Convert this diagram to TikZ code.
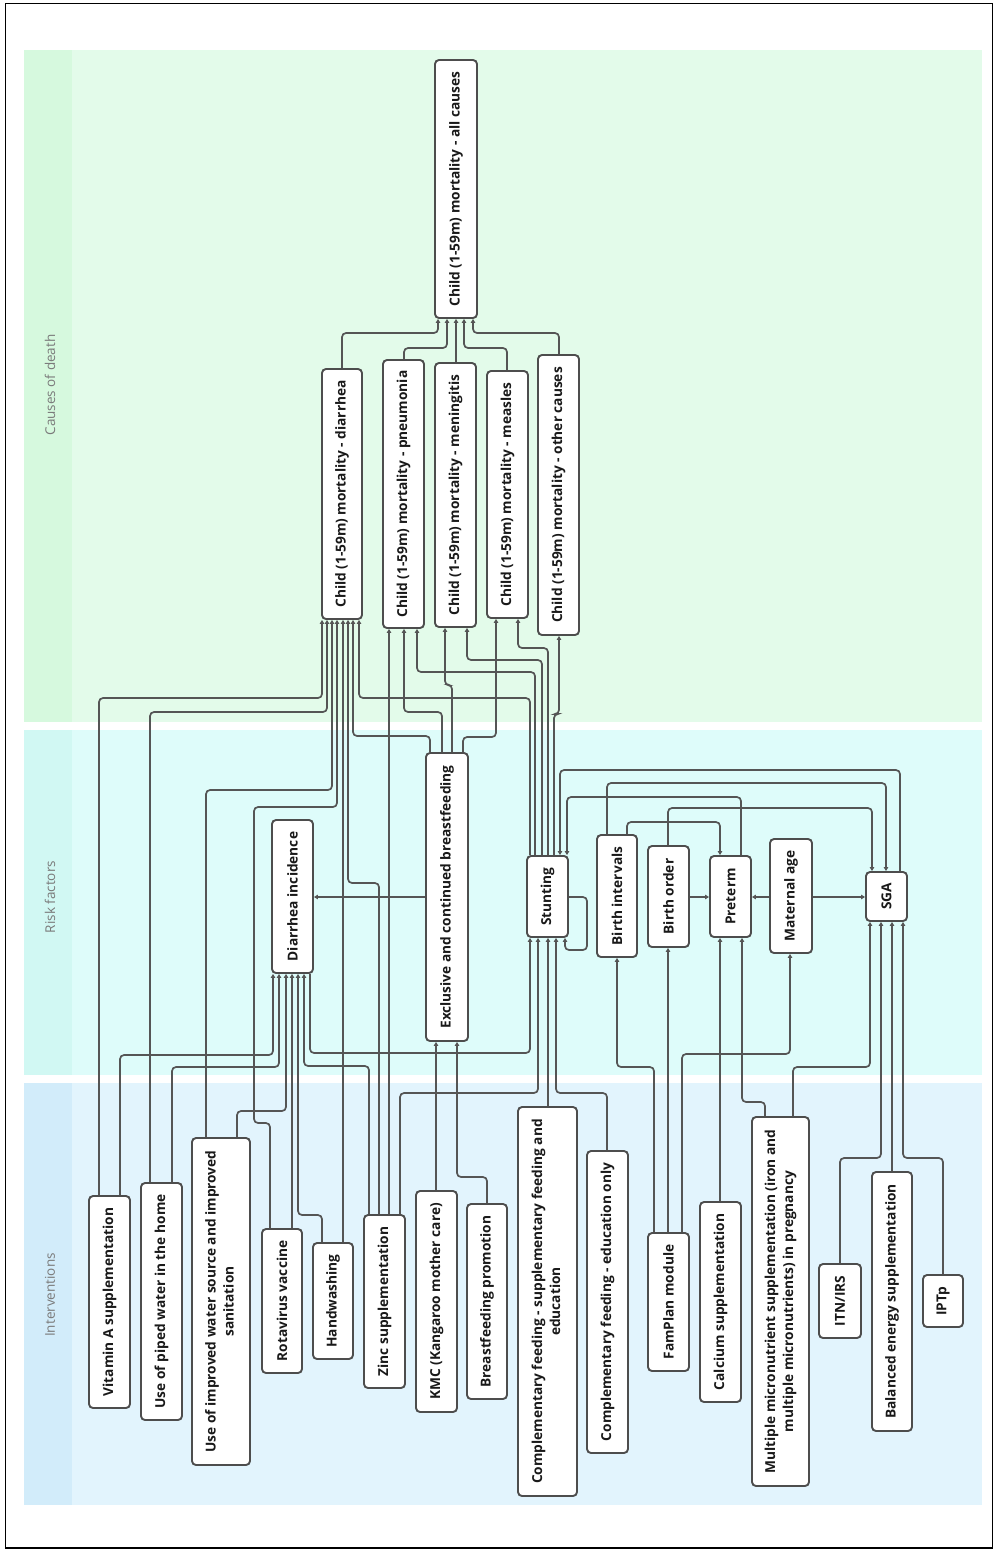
\documentclass[tikz,border=0pt]{standalone}
\usepackage{fontspec}
\setmainfont{Open Sans}
\usetikzlibrary{arrows.meta}
\definecolor{lc}{HTML}{555555}
\definecolor{bc}{HTML}{4D4D4D}
\definecolor{gband}{HTML}{E3FBEA}
\definecolor{gstrip}{HTML}{D6F9DE}
\definecolor{cband}{HTML}{DEFCFA}
\definecolor{cstrip}{HTML}{D1F8F3}
\definecolor{bband}{HTML}{E2F4FD}
\definecolor{bstrip}{HTML}{D2ECFA}
\definecolor{ttl}{HTML}{7A7A7A}
\newcommand\mybox[6]{\node[box, minimum width={(#4-#2)*1pt}, minimum height={(#5-#3)*1pt}] (#1) at ({(#2+#4)/2},{(#3+#5)/2}) {\rotatebox{90}{#6}};}
\newcommand\twol[2]{\begin{tabular}{@{}c@{}}#1\\#2\end{tabular}}
\begin{document}
\begin{tikzpicture}[x=1pt,y=-1pt,
  box/.style={draw=bc, line width=1.9pt, rounded corners=4pt, fill=white, inner sep=0pt, text=black!90, font=\fontsize{13.7}{18}\selectfont\bfseries},
  arr/.style={draw=lc, line width=1.7pt, rounded corners=4pt, -{Triangle[length=4pt,width=4.5pt]}},
  ttlstyle/.style={text=ttl, font=\fontsize{13.5}{15}\selectfont, rotate=90}]
\useasboundingbox (0,0) rectangle (997,1553);
\draw[black, line width=1.5pt] (5.5,3.5) rectangle (992.5,1548);
% bands
\fill[gband] (24,50) rectangle (982,722);
\fill[gstrip] (24,50) rectangle (72,722);
\fill[cband] (24,730) rectangle (982,1075);
\fill[cstrip] (24,730) rectangle (72,1075);
\fill[bband] (24,1083) rectangle (982,1505);
\fill[bstrip] (24,1083) rectangle (72,1505);
\node[ttlstyle] (t1) at (50,385) {Causes of death};
\node[ttlstyle] (t2) at (50,897) {Risk factors};
\node[ttlstyle] (t3) at (50,1295) {Interventions};
% causes
\mybox{allc}{435}{60}{477}{318}{Child (1-59m) mortality - all causes}
\mybox{dmort}{322}{369}{362}{619}{Child (1-59m) mortality - diarrhea}
\mybox{pmort}{383}{360}{424}{628}{Child (1-59m) mortality - pneumonia}
\mybox{menmort}{435}{363}{476}{627}{Child (1-59m) mortality - meningitis}
\mybox{measmort}{487}{371}{528}{618}{Child (1-59m) mortality - measles}
\mybox{othmort}{538}{355}{579}{635}{Child (1-59m) mortality - other causes}
% risk factors
\mybox{dinc}{272}{820}{313}{973}{Diarrhea incidence}
\mybox{bf}{426}{753}{468}{1041}{Exclusive and continued breastfeeding}
\mybox{stunt}{527}{856}{568}{937}{Stunting}
\mybox{bint}{597}{835}{637}{957}{Birth intervals}
\mybox{bord}{648}{846}{689}{947}{Birth order}
\mybox{pre}{710}{856}{751}{937}{Preterm}
\mybox{mage}{770}{839}{812}{953}{Maternal age}
\mybox{sga}{866}{872}{907}{921}{SGA}
% interventions
\mybox{vita}{89}{1196}{130}{1408}{Vitamin A supplementation}
\mybox{piped}{141}{1183}{182}{1420}{Use of piped water in the home}
\mybox{impw}{192}{1138}{250}{1465}{\twol{Use of improved water source and improved}{sanitation}}
\mybox{rota}{262}{1229}{302}{1373}{Rotavirus vaccine}
\mybox{hand}{313}{1243}{353}{1359}{Handwashing}
\mybox{zinc}{364}{1215}{405}{1388}{Zinc supplementation}
\mybox{kmc}{416}{1191}{457}{1412}{KMC (Kangaroo mother care)}
\mybox{bfp}{467}{1204}{507}{1399}{Breastfeeding promotion}
\mybox{cfs}{518}{1107}{577}{1496}{\twol{Complementary feeding - supplementary feeding and}{education}}
\mybox{cfe}{587}{1151}{628}{1453}{Complementary feeding - education only}
\mybox{fam}{648}{1233}{689}{1371}{FamPlan module}
\mybox{calc}{700}{1202}{741}{1402}{Calcium supplementation}
\mybox{mmn}{752}{1117}{809}{1486}{\twol{Multiple micronutrient supplementation (iron and}{multiple micronutrients) in pregnancy}}
\mybox{itn}{819}{1264}{861}{1338}{ITN/IRS}
\mybox{bal}{872}{1172}{912}{1431}{Balanced energy supplementation}
\mybox{iptp}{923}{1275}{963}{1327}{IPTp}
% causes -> all causes
\draw[arr] (dmort.north -| 342,0) |- (438,333) -- (allc.south -| 438,0);
\draw[arr] (pmort.north -| 404,0) |- (447,348) -- (allc.south -| 447,0);
\draw[arr] (menmort.north -| 456,0) -- (allc.south -| 456,0);
\draw[arr] (measmort.north -| 507,0) |- (464,348) -- (allc.south -| 464,0);
\draw[arr] (othmort.north -| 559,0) |- (473,333) -- (allc.south -| 473,0);
% into diarrhea mortality
\draw[arr] (vita.north -| 99,0) |- (322,698) -- (dmort.south -| 322,0);
\draw[arr] (piped.north -| 150,0) |- (327,712) -- (dmort.south -| 327,0);
\draw[arr] (impw.north -| 206,0) |- (332,790) -- (dmort.south -| 332,0);
\draw[arr] (rota.north -| 270,0) |- (254,1123) |- (337,807) -- (dmort.south -| 337,0);
\draw[arr] (hand.north -| 343,0) -- (dmort.south -| 343,0);
\draw[arr] (zinc.north -| 379,0) |- (348,883) -- (dmort.south -| 348,0);
\draw[arr] (bf.north -| 430,0) |- (353,736) -- (dmort.south -| 353,0);
\draw[arr] (stunt.north -| 530,0) |- (359,698) -- (dmort.south -| 359,0);
% pneumonia
\draw[arr] (zinc.north -| 389,0) -- (pmort.south -| 389,0);
\draw[arr] (bf.north -| 442,0) |- (404,712) -- (pmort.south -| 404,0);
\draw[arr] (stunt.north -| 535,0) |- (417,672) -- (pmort.south -| 417,0);
% meningitis
\draw[arr] (bf.north -| 452,0) |- (445,685) -- (menmort.south -| 445,0);
\draw[arr] (stunt.north -| 542,0) |- (467,660) -- (menmort.south -| 467,0);
% measles
\draw[arr] (bf.north -| 463,0) |- (496,737) -- (measmort.south -| 496,0);
\draw[arr] (stunt.north -| 548,0) |- (518,648) -- (measmort.south -| 518,0);
% other causes
\draw[arr] (stunt.north -| 554,0) |- (559,714) -- (othmort.south -| 559,0);
% diarrhea incidence
\draw[arr] (vita.north -| 120,0) |- (273,1055) -- (dinc.south -| 273,0);
\draw[arr] (piped.north -| 172,0) |- (279,1067) -- (dinc.south -| 279,0);
\draw[arr] (impw.north -| 237,0) |- (286,1111) -- (dinc.south -| 286,0);
\draw[arr] (rota.north -| 292,0) -- (dinc.south -| 292,0);
\draw[arr] (hand.north -| 322,0) |- (298,1215) -- (dinc.south -| 298,0);
\draw[arr] (zinc.north -| 369,0) |- (304,1066) -- (dinc.south -| 304,0);
\draw[arr] (bf.west |- 0,897) -- (dinc.east |- 0,897);
% stunting
\draw[arr] (dinc.south -| 310,0) |- (530,1053) -- (stunt.south -| 530,0);
\draw[arr] (zinc.north -| 400,0) |- (538,1093) -- (stunt.south -| 538,0);
\draw[arr] (cfs.north -| 548,0) -- (stunt.south -| 548,0);
\draw[arr] (cfe.north -| 607,0) |- (556,1093) -- (stunt.south -| 556,0);
\draw[arr] (stunt.east |- 0,897) -| (587,950) -| (stunt.south -| 565,0);
% breastfeeding
\draw[arr] (kmc.north -| 436,0) -- (bf.south -| 436,0);
\draw[arr] (bfp.north -| 487,0) |- (457,1177) -- (bf.south -| 457,0);
% risk factor interconnections
\draw[arr] (sga.north -| 900,0) |- (560,770) -- (stunt.north -| 560,0);
\draw[arr] (bint.north -| 607,0) |- (886,783) -- (sga.north -| 886,0);
\draw[arr] (pre.north -| 741,0) |- (567,797) -- (stunt.north -| 567,0);
\draw[arr] (bord.north -| 668,0) |- (872,808) -- (sga.north -| 872,0);
\draw[arr] (bint.north -| 627,0) |- (720,822) -- (pre.north -| 720,0);
\draw[arr] (bord.east |- 0,897) -- (pre.west |- 0,897);
\draw[arr] (mage.west |- 0,897) -- (pre.east |- 0,897);
\draw[arr] (mage.east |- 0,897) -- (sga.west |- 0,897);
% interventions -> risk factors
\draw[arr] (fam.north -| 654,0) |- (617,1067) -- (bint.south -| 617,0);
\draw[arr] (fam.north -| 668,0) -- (bord.south -| 668,0);
\draw[arr] (fam.north -| 682,0) |- (790,1054) -- (mage.south -| 790,0);
\draw[arr] (calc.north -| 720,0) -- (pre.south -| 720,0);
\draw[arr] (mmn.north -| 765,0) |- (742,1102) -- (pre.south -| 742,0);
\draw[arr] (mmn.north -| 793,0) |- (870,1067) -- (sga.south -| 870,0);
\draw[arr] (itn.north -| 840,0) |- (881,1158) -- (sga.south -| 881,0);
\draw[arr] (bal.north -| 892,0) -- (sga.south -| 892,0);
\draw[arr] (iptp.north -| 943,0) |- (903,1158) -- (sga.south -| 903,0);
\end{tikzpicture}
\end{document}
